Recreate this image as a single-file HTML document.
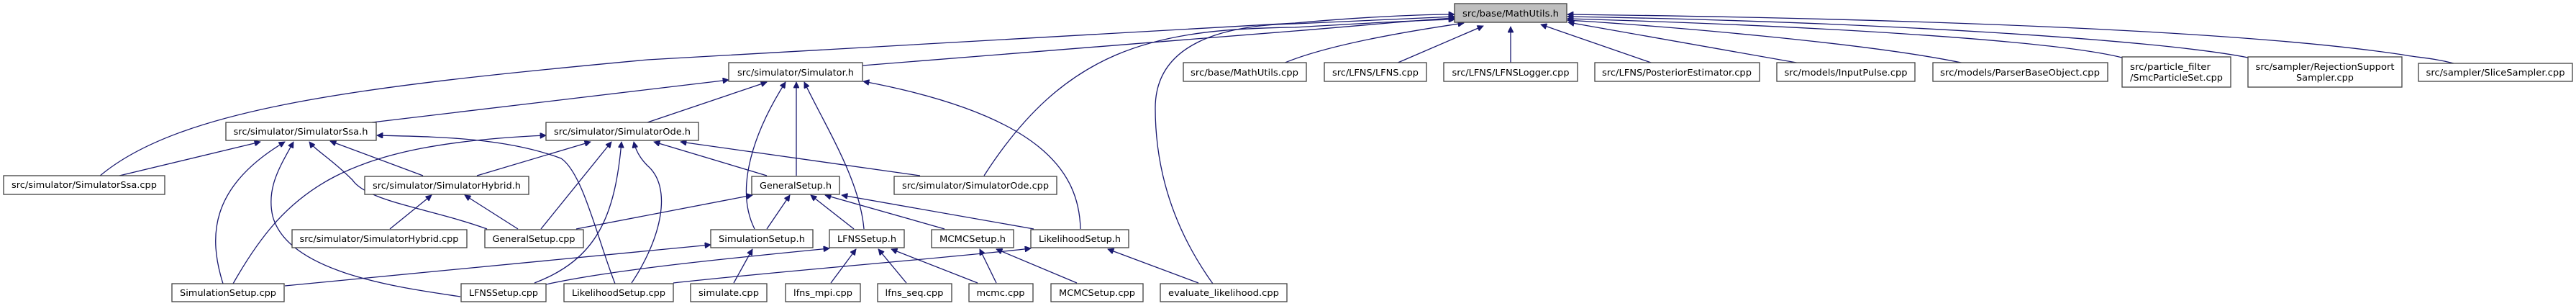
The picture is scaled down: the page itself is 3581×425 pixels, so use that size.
<!DOCTYPE html>
<html><head><meta charset="utf-8"><style>
html,body{margin:0;padding:0;background:#fff;}
svg{display:block;}
text{font-family:"DejaVu Sans","Liberation Sans",sans-serif;font-size:12px;fill:#000;}
.e{fill:none;stroke:#191970;stroke-width:1.3;}
.n{fill:#fff;stroke:#404040;stroke-width:1.3;}
</style></head><body>
<svg width="3581" height="425" viewBox="0 0 3581 425" xmlns="http://www.w3.org/2000/svg">
<defs>
<marker id="a" viewBox="0 0 10 10" refX="10" refY="5" markerWidth="10" markerHeight="8" markerUnits="userSpaceOnUse" orient="auto">
<path d="M0,0 L10,5 L0,10 z" fill="#191970" stroke="#191970"/>
</marker>
</defs>
<g class="e" marker-end="url(#a)">
<!-- to MathUtils.h -->
<path d="M138,245 C250,150 500,120 900,83 L1800,32 C1900,23 1980,20 2022,20"/>
<path d="M1199,91 L1800,43 C1900,35 1980,27 2022,25"/>
<path d="M1368,244 C1480,70 1600,40 1800,38 C1900,32 1980,28 2022,27"/>
<path d="M1686,394 C1640,330 1606,250 1606,150 C1606,60 1700,35 1800,33 C1900,28 1990,25 2022,23"/>
<path d="M1784,88 C1850,60 1980,40 2035,32"/>
<path d="M1941,88 L2062,36"/>
<path d="M2100,88 L2100,37"/>
<path d="M2298,88 L2142,34"/>
<path d="M2503,88 L2180,31"/>
<path d="M2731,88 C2600,60 2300,35 2179,28"/>
<path d="M2950,80 C2850,55 2500,35 2179,26"/>
<path d="M3125,80 C3000,55 2600,30 2179,23"/>
<path d="M3411,88 C3380,80 3360,80 3340,76 C3100,40 2600,25 2179,20"/>
<!-- Simulator.h -->
<path d="M517,170 L1013,111"/>
<path d="M900,170 L1066,114"/>
<path d="M1049,318 C1020,260 1050,180 1092,114"/>
<path d="M1107,244 L1107,114"/>
<path d="M1201,318 C1195,250 1150,180 1118,114"/>
<path d="M1502,318 C1500,240 1450,160 1200,113"/>
<!-- SimulatorSsa.h -->
<path d="M166,244 L362,197"/>
<path d="M588,244 L459,196"/>
<path d="M310,394 C290,330 290,260 396,197"/>
<path d="M640,412 C560,400 400,380 379,300 C370,260 390,230 408,197"/>
<path d="M677,318 C600,290 510,280 490,250 C460,220 440,210 430,197"/>
<path d="M855,394 C830,330 810,240 780,220 C700,190 600,190 524,188"/>
<!-- SimulatorOde.h -->
<path d="M324,394 C400,260 480,200 759,188"/>
<path d="M663,244 L821,197"/>
<path d="M752,318 L850,197"/>
<path d="M743,393 C830,360 855,300 864,197"/>
<path d="M878,393 C920,330 935,260 900,230 C890,220 884,210 881,197"/>
<path d="M1279,244 L946,197"/>
<path d="M1066,244 L909,197"/>
<!-- SimulatorHybrid.h -->
<path d="M542,318 L600,271"/>
<path d="M720,318 L646,271"/>
<!-- GeneralSetup.h -->
<path d="M801,318 L1046,271"/>
<path d="M1066,318 L1098,271"/>
<path d="M1187,318 L1127,271"/>
<path d="M1313,318 L1147,271"/>
<path d="M1437,318 L1170,271"/>
<!-- setups -->
<path d="M396,397 L988,340"/>
<path d="M759,395 C850,375 1000,360 1153,345"/>
<path d="M936,393 C1100,375 1300,360 1433,345"/>
<path d="M1020,393 L1046,346"/>
<path d="M1155,393 L1190,346"/>
<path d="M1260,393 L1221,346"/>
<path d="M1359,393 L1239,346"/>
<path d="M1385,393 L1362,346"/>
<path d="M1497,393 L1385,346"/>
<path d="M1666,393 L1540,346"/>
</g>
<g>
<rect class="n" x="2022" y="5" width="156" height="26" style="fill:#bfbfbf"/>
<text x="2100" y="23" text-anchor="middle" textLength="134" lengthAdjust="spacingAndGlyphs">src/base/MathUtils.h</text>

<rect class="n" x="1013" y="87" width="186" height="26"/><text x="1106" y="105" text-anchor="middle" textLength="162" lengthAdjust="spacingAndGlyphs">src/simulator/Simulator.h</text>
<rect class="n" x="1645" y="87" width="171" height="26"/><text x="1730" y="105" text-anchor="middle" textLength="150" lengthAdjust="spacingAndGlyphs">src/base/MathUtils.cpp</text>
<rect class="n" x="1841" y="87" width="142" height="26"/><text x="1912" y="105" text-anchor="middle" textLength="120" lengthAdjust="spacingAndGlyphs">src/LFNS/LFNS.cpp</text>
<rect class="n" x="2007" y="87" width="186" height="26"/><text x="2100" y="105" text-anchor="middle" textLength="163" lengthAdjust="spacingAndGlyphs">src/LFNS/LFNSLogger.cpp</text>
<rect class="n" x="2217" y="87" width="229" height="26"/><text x="2331" y="105" text-anchor="middle" textLength="208" lengthAdjust="spacingAndGlyphs">src/LFNS/PosteriorEstimator.cpp</text>
<rect class="n" x="2470" y="87" width="192" height="26"/><text x="2566" y="105" text-anchor="middle" textLength="171" lengthAdjust="spacingAndGlyphs">src/models/InputPulse.cpp</text>
<rect class="n" x="2687" y="87" width="243" height="26"/><text x="2808" y="105" text-anchor="middle" textLength="222" lengthAdjust="spacingAndGlyphs">src/models/ParserBaseObject.cpp</text>
<rect class="n" x="2950" y="79" width="151" height="42"/><text x="2961" y="97" textLength="112" lengthAdjust="spacingAndGlyphs">src/particle_filter</text><text x="2961" y="112" textLength="129" lengthAdjust="spacingAndGlyphs">/SmcParticleSet.cpp</text>
<rect class="n" x="3125" y="79" width="214" height="42"/><text x="3232" y="97" text-anchor="middle" textLength="193" lengthAdjust="spacingAndGlyphs">src/sampler/RejectionSupport</text><text x="3232" y="112" text-anchor="middle" textLength="80" lengthAdjust="spacingAndGlyphs">Sampler.cpp</text>
<rect class="n" x="3362" y="88" width="214" height="25"/><text x="3469" y="105" text-anchor="middle" textLength="193" lengthAdjust="spacingAndGlyphs">src/sampler/SliceSampler.cpp</text>

<rect class="n" x="314" y="170" width="209" height="25"/><text x="418" y="187" text-anchor="middle" textLength="187" lengthAdjust="spacingAndGlyphs">src/simulator/SimulatorSsa.h</text>
<rect class="n" x="759" y="170" width="212" height="25"/><text x="865" y="187" text-anchor="middle" textLength="190" lengthAdjust="spacingAndGlyphs">src/simulator/SimulatorOde.h</text>

<rect class="n" x="5" y="244" width="224" height="26"/><text x="117" y="261" text-anchor="middle" textLength="202" lengthAdjust="spacingAndGlyphs">src/simulator/SimulatorSsa.cpp</text>
<rect class="n" x="507" y="245" width="228" height="25"/><text x="621" y="262" text-anchor="middle" textLength="206" lengthAdjust="spacingAndGlyphs">src/simulator/SimulatorHybrid.h</text>
<rect class="n" x="1045" y="245" width="122" height="25"/><text x="1106" y="262" text-anchor="middle" textLength="100" lengthAdjust="spacingAndGlyphs">GeneralSetup.h</text>
<rect class="n" x="1243" y="245" width="226" height="25"/><text x="1356" y="262" text-anchor="middle" textLength="204" lengthAdjust="spacingAndGlyphs">src/simulator/SimulatorOde.cpp</text>

<rect class="n" x="406" y="319" width="243" height="25"/><text x="527" y="336" text-anchor="middle" textLength="221" lengthAdjust="spacingAndGlyphs">src/simulator/SimulatorHybrid.cpp</text>
<rect class="n" x="674" y="319" width="137" height="25"/><text x="742" y="336" text-anchor="middle" textLength="115" lengthAdjust="spacingAndGlyphs">GeneralSetup.cpp</text>
<rect class="n" x="988" y="319" width="142" height="25"/><text x="1059" y="336" text-anchor="middle" textLength="120" lengthAdjust="spacingAndGlyphs">SimulationSetup.h</text>
<rect class="n" x="1153" y="319" width="104" height="25"/><text x="1205" y="336" text-anchor="middle" textLength="82" lengthAdjust="spacingAndGlyphs">LFNSSetup.h</text>
<rect class="n" x="1295" y="319" width="114" height="25"/><text x="1352" y="336" text-anchor="middle" textLength="92" lengthAdjust="spacingAndGlyphs">MCMCSetup.h</text>
<rect class="n" x="1433" y="319" width="136" height="25"/><text x="1501" y="336" text-anchor="middle" textLength="114" lengthAdjust="spacingAndGlyphs">LikelihoodSetup.h</text>

<rect class="n" x="239" y="394" width="156" height="25"/><text x="317" y="411" text-anchor="middle" textLength="134" lengthAdjust="spacingAndGlyphs">SimulationSetup.cpp</text>
<rect class="n" x="641" y="394" width="118" height="25"/><text x="700" y="411" text-anchor="middle" textLength="96" lengthAdjust="spacingAndGlyphs">LFNSSetup.cpp</text>
<rect class="n" x="784" y="394" width="152" height="25"/><text x="860" y="411" text-anchor="middle" textLength="130" lengthAdjust="spacingAndGlyphs">LikelihoodSetup.cpp</text>
<rect class="n" x="960" y="394" width="106" height="25"/><text x="1013" y="411" text-anchor="middle" textLength="84" lengthAdjust="spacingAndGlyphs">simulate.cpp</text>
<rect class="n" x="1092" y="394" width="104" height="25"/><text x="1144" y="411" text-anchor="middle" textLength="82" lengthAdjust="spacingAndGlyphs">lfns_mpi.cpp</text>
<rect class="n" x="1220" y="394" width="103" height="25"/><text x="1271" y="411" text-anchor="middle" textLength="81" lengthAdjust="spacingAndGlyphs">lfns_seq.cpp</text>
<rect class="n" x="1347" y="394" width="89" height="25"/><text x="1391" y="411" text-anchor="middle" textLength="67" lengthAdjust="spacingAndGlyphs">mcmc.cpp</text>
<rect class="n" x="1461" y="394" width="128" height="25"/><text x="1525" y="411" text-anchor="middle" textLength="106" lengthAdjust="spacingAndGlyphs">MCMCSetup.cpp</text>
<rect class="n" x="1613" y="394" width="176" height="25"/><text x="1701" y="411" text-anchor="middle" textLength="154" lengthAdjust="spacingAndGlyphs">evaluate_likelihood.cpp</text>
</g>
</svg>
</body></html>
